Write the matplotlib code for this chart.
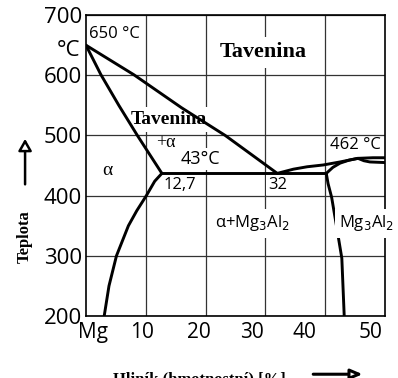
import matplotlib.pyplot as plt
from matplotlib.patches import FancyArrowPatch

# phase diagram Mg-Al
liq_left_x = [0, 8, 16, 23.3, 28, 32]
liq_left_t = [650, 601, 546, 500, 466, 437]
sol_alpha_x = [0, 2.5, 5.5, 8.6, 12.7]
sol_alpha_t = [650, 601, 550, 500, 437]
solv_alpha_x = [12.7, 11.5, 10.1, 8.5, 7.1, 5.1, 3.85, 3.05]
solv_alpha_t = [437, 424, 400, 375, 350, 300, 250, 200]
eut_x = [12.7, 40.2]
eut_t = [437, 437]
liq_right_x = [32, 34.7, 37, 39.7, 42.5, 45.5, 48, 50]
liq_right_t = [437, 444, 448, 451, 456, 462, 463, 463]
sol_right_x = [40.2, 41.3, 42.5, 44, 45.5]
sol_right_t = [437, 447, 454, 459, 462]
low_right_x = [45.5, 46.5, 47.5, 50]
low_right_t = [462, 458, 456, 455]
solv_mg_x = [40.2, 40.5, 41.1, 41.9, 42.8, 43.2]
solv_mg_t = [437, 420, 397, 350, 296, 200]

yticks = [200, 300, 400, 500, 600, 700]
xgrid = [10, 20, 30, 40]
xlab_pos = [1.2, 9.3, 18.9, 27.8, 36.6, 47.6]
xlab_txt = ['Mg', '10', '20', '30', '40', '50']

sans = 'Open Sans'
serif = 'Liberation Serif'

fig = plt.figure(figsize=(3.98, 3.78), dpi=100)
ax = fig.add_axes([0.216, 0.164, 0.751, 0.796])
ax.set_xlim(0, 50)
ax.set_ylim(200, 700)
ax.set_xticks(xgrid)
ax.set_xticklabels([])
ax.set_yticks(yticks)
ax.set_yticklabels([str(v) for v in yticks], fontfamily=sans, fontsize=16)
ax.tick_params(length=0, pad=3)
ax.grid(True, color='#333333', lw=0.9)
ax.set_axisbelow(True)
for s in ax.spines.values():
    s.set_linewidth(1.2)

for xs, ts in [(liq_left_x, liq_left_t), (sol_alpha_x, sol_alpha_t),
               (solv_alpha_x, solv_alpha_t), (eut_x, eut_t),
               (liq_right_x, liq_right_t), (sol_right_x, sol_right_t),
               (low_right_x, low_right_t), (solv_mg_x, solv_mg_t)]:
    ax.plot(xs, ts, color='black', lw=2.1, solid_capstyle='round',
            solid_joinstyle='round', zorder=3)

for x, t in zip(xlab_pos, xlab_txt):
    ax.text(x, -0.055, t, transform=ax.get_xaxis_transform(), ha='center',
            va='center', fontfamily=sans, fontsize=15, clip_on=False)

ax.text(-0.018, 642, '°C', transform=ax.get_yaxis_transform(), ha='right',
        va='center', fontfamily=sans, fontsize=16)

wb = dict(facecolor='white', edgecolor='none', pad=1.5)
ax.text(4.8, 669, '650 °C', fontfamily=sans, fontsize=12, ha='center', va='center', bbox=wb)
ax.text(29.6, 638, 'Tavenina', fontfamily=serif, fontweight='bold', fontsize=16,
        ha='center', va='center', bbox=dict(facecolor='white', edgecolor='none', pad=4))
ax.text(13.9, 527, 'Tavenina', fontfamily=serif, fontweight='bold', fontsize=14,
        ha='center', va='center', bbox=dict(facecolor='white', edgecolor='none', pad=3), zorder=2)
ax.text(13.4, 489, '+α', fontfamily=serif, fontsize=13, ha='center', va='center')
ax.text(19.1, 461, '43°C', fontfamily=sans, fontsize=13, ha='center', va='center', bbox=wb)
ax.text(3.6, 442, 'α', fontfamily=serif, fontsize=14, ha='center', va='center')
ax.text(15.7, 418, '12,7', fontfamily=sans, fontsize=12, ha='center', va='center')
ax.text(32.1, 418, '32', fontfamily=sans, fontsize=12, ha='center', va='center', bbox=wb)
ax.text(45.0, 484, '462 °C', fontfamily=sans, fontsize=12, ha='center', va='center')
ax.text(27.8, 354, 'α+Mg$_3$Al$_2$', fontfamily=sans, fontsize=12, ha='center',
        va='center', bbox=dict(facecolor='white', edgecolor='none', pad=3))
ax.text(47.0, 354, 'Mg$_3$Al$_2$', fontfamily=sans, fontsize=12, ha='center',
        va='center', bbox=dict(facecolor='white', edgecolor='none', pad=3), zorder=4, clip_on=False)

fig.text(0.063, 0.373, 'Teplota', rotation=90, fontfamily=serif, fontweight='bold',
         fontsize=12, ha='center', va='center')
fig.add_artist(FancyArrowPatch(
    (0.063, 0.505), (0.063, 0.64), transform=fig.transFigure,
    arrowstyle='-|>,head_width=4,head_length=7', lw=1.8, ec='black', fc='white',
    mutation_scale=1))

fig.text(0.5, 0.018, 'Hliník (hmotnostní) [%]', fontfamily=serif, fontweight='bold',
         fontsize=12, ha='center', va='top')
fig.add_artist(FancyArrowPatch(
    (0.78, 0.01), (0.918, 0.01), transform=fig.transFigure,
    arrowstyle='-|>,head_width=3,head_length=7', lw=2.2, ec='black', fc='white',
    mutation_scale=1))

fig.savefig('out.png', dpi=100)
